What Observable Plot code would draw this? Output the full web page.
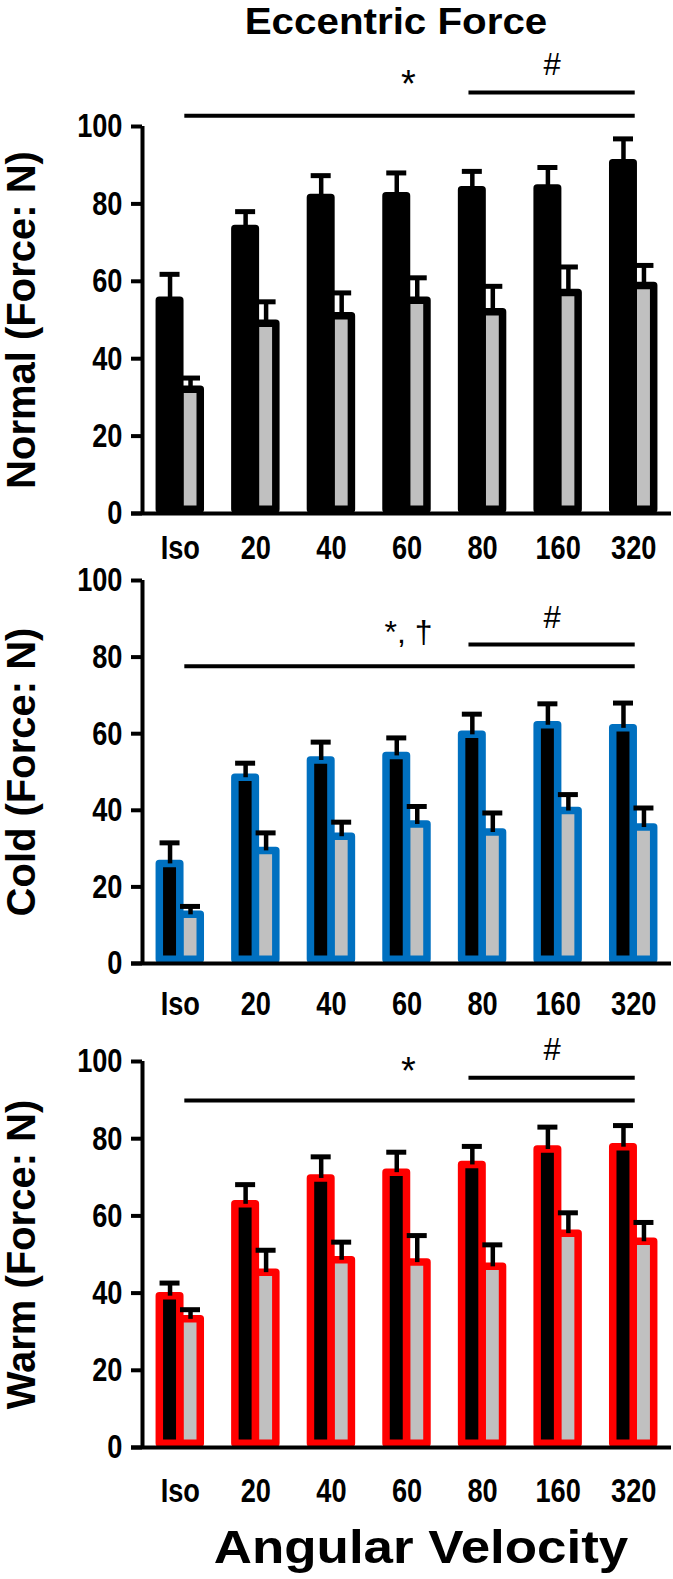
<!DOCTYPE html>
<html><head><meta charset="utf-8">
<script src="https://cdn.jsdelivr.net/npm/d3@7"></script>
<script src="https://cdn.jsdelivr.net/npm/@observablehq/plot@0.6"></script>
<style>
body{margin:0;background:#fff;font-family:"Liberation Sans",Arial,sans-serif;}
#root{position:relative;width:673px;height:1579px;overflow:hidden;}
.panel{position:absolute;left:0;}
.panel svg{overflow:visible;}
.big{position:absolute;font-weight:bold;line-height:1.15;white-space:nowrap;color:#000;}
</style></head><body>
<div id="root">
  <div id="title" class="big" style="left:396px;top:1px;font-size:36px;transform:translateX(-50%) scaleX(1.12);">Eccentric Force</div>
  <div id="xtitle" class="big" style="left:421px;top:1521px;font-size:46px;transform:translateX(-50%) scaleX(1.15);">Angular Velocity</div>
</div>
<script>
// ---------- data ----------
const categories = ["Iso", "20", "40", "60", "80", "160", "320"];
const yTicks = [0, 20, 40, 60, 80, 100];

const normalBlack    = [55, 73.5, 81.5, 82, 83.5, 84, 90.5];
const normalBlackErr = [6.8, 4.5, 5.8, 6.0, 4.9, 5.4, 6.3];
const normalGray     = [32, 49, 51, 55, 52, 57, 58.8];
const normalGrayErr  = [3.0, 5.7, 6.0, 5.9, 6.7, 6.7, 5.3];

const coldBlack    = [26, 48.5, 53, 54.2, 59.7, 62.2, 61.4];
const coldBlackErr = [5.5, 3.8, 4.8, 4.7, 5.4, 5.6, 6.6];
const coldGray     = [12.7, 29.4, 33.1, 36.3, 34.2, 39.8, 35.5];
const coldGrayErr  = [2.2, 4.7, 3.8, 4.7, 5.1, 4.3, 5.1];

const warmBlack    = [39.2, 63, 69.7, 71.2, 73.2, 77.2, 77.8];
const warmBlackErr = [3.4, 5.1, 5.6, 5.3, 4.8, 5.8, 5.6];
const warmGray     = [33.2, 45.3, 48.5, 47.9, 46.8, 55.4, 53.3];
const warmGrayErr  = [2.5, 5.8, 4.7, 7.0, 5.7, 5.4, 5.0];

// significance bars: [from category index, to category index]
const sigFrom = [0.06, 3.82];
const sigTo   = [6.02, 6.02];
const normalSigY = [102.8, 108.8];
const coldSigY   = [77.6, 83.3];
const warmSigY   = [89.9, 95.8];
const sigLabelX  = [3.02, 4.92];
const normalSigText = ["*", "#"];
const coldSigText   = ["*, \u2020", "#"];
const warmSigText   = ["*", "#"];
const normalSigTextY = [107.6, 113.4];
const coldSigTextY   = [83.6, 87.7];
const warmSigTextY   = [94.2, 100.5];

// ---------- layout ----------
const STEP = 529 / 7;          // px per category
const BW = 0.271;              // bar width in category units
const CAP = 10 / STEP;         // half cap width
const TICK = 11 / STEP;
const GRAYFILL = "#c0c0c0";

function rows(v, e) { return v.map((val, i) => ({i, v: val, e: e[i]})); }

function squeeze(svg, selector, kx, ky) {
  svg.querySelectorAll(selector).forEach(t => {
    const tr = t.getAttribute("transform") || "";
    t.setAttribute("transform", tr + ` scale(${kx},${ky})`);
  });
}

function panel(cfg) {
  const black = rows(cfg.black, cfg.blackErr);
  const gray = rows(cfg.gray, cfg.grayErr);
  const sig = cfg.sigY.map((y, k) => ({y, x1: sigFrom[k], x2: sigTo[k]}));
  const sigT = cfg.sigText.map((t, k) => ({t, x: sigLabelX[k], y: cfg.sigTextY[k]}));
  const sigSize = t => t === "*" ? 38 : t === "#" ? 31 : 32;
  const svg = Plot.plot({
    width: 673,
    height: cfg.height,
    marginLeft: 142,
    marginRight: 2,
    marginTop: cfg.marginTop,
    marginBottom: cfg.marginBottom,
    style: {fontFamily: "'Liberation Sans', Arial, sans-serif", fontWeight: "bold", color: "#000", background: "transparent", overflow: "visible"},
    x: {type: "linear", domain: [-0.5, 6.5]},
    y: {domain: [0, 100]},
    marks: [
      Plot.rect(gray, {x1: d => d.i, x2: d => d.i + BW, y1: 0, y2: d => d.v, fill: GRAYFILL, stroke: cfg.edge, strokeWidth: 7.5, strokeLinejoin: "round", insetBottom: 3.75}),
      Plot.rect(black, {x1: d => d.i - BW, x2: d => d.i, y1: 0, y2: d => d.v, fill: "#000", stroke: cfg.edge, strokeWidth: 7.5, strokeLinejoin: "round", insetBottom: 3.75}),
      Plot.ruleX(gray, {x: d => d.i + BW / 2, y1: d => d.v, y2: d => d.v + d.e, stroke: "#000", strokeWidth: 4.5}),
      Plot.ruleY(gray, {y: d => d.v + d.e, x1: d => d.i + BW / 2 - CAP, x2: d => d.i + BW / 2 + CAP, stroke: "#000", strokeWidth: 5}),
      Plot.ruleX(black, {x: d => d.i - BW / 2, y1: d => d.v, y2: d => d.v + d.e, stroke: "#000", strokeWidth: 4.5}),
      Plot.ruleY(black, {y: d => d.v + d.e, x1: d => d.i - BW / 2 - CAP, x2: d => d.i - BW / 2 + CAP, stroke: "#000", strokeWidth: 5}),
      Plot.ruleX([-0.5], {y1: 0, y2: 100, stroke: "#000", strokeWidth: 4}),
      Plot.ruleY([0], {x1: -0.5 - TICK, x2: 6.5, stroke: "#000", strokeWidth: 4}),
      Plot.axisY({ticks: yTicks, tickSize: 11, tickPadding: 9, fontSize: 34, strokeWidth: 4, label: null}),
      Plot.axisX({ticks: d3.range(categories.length), tickFormat: i => categories[i], tickSize: 0, tickPadding: cfg.labelPad, fontSize: 34, label: null}),
      Plot.text([cfg.label], {frameAnchor: "left", textAnchor: "middle", rotate: -90, dx: -120, fontSize: 40, fontWeight: "bold", ariaLabel: "y-label"}),
      Plot.ruleY(sig, {y: "y", x1: "x1", x2: "x2", stroke: "#000", strokeWidth: 4}),
      Plot.text(sigT, {x: "x", y: "y", text: "t", fontSize: d => sigSize(d.t), fontWeight: "normal", lineAnchor: "bottom"})
    ]
  });
  squeeze(svg, 'g[aria-label="y-axis tick label"] text', 0.8, 1);
  squeeze(svg, 'g[aria-label="x-axis tick label"] text', 0.8, 1);
  squeeze(svg, 'g[aria-label="y-label"] text', cfg.labelStretch, 1);
  return svg;
}

const root = document.getElementById("root");
function place(svg, top) {
  const d = document.createElement("div");
  d.className = "panel";
  d.style.top = top + "px";
  d.appendChild(svg);
  root.appendChild(d);
}

place(panel({black: normalBlack, blackErr: normalBlackErr, gray: normalGray, grayErr: normalGrayErr,
  edge: "#000", label: "Normal (Force: N)", labelStretch: 0.98, sigY: normalSigY, sigText: normalSigText, sigTextY: normalSigTextY,
  height: 535, marginTop: 86, marginBottom: 62, labelPad: 21}), 40);

place(panel({black: coldBlack, blackErr: coldBlackErr, gray: coldGray, grayErr: coldGrayErr,
  edge: "#0070c0", label: "Cold (Force: N)", labelStretch: 1.15, sigY: coldSigY, sigText: coldSigText, sigTextY: coldSigTextY,
  height: 465, marginTop: 15, marginBottom: 67, labelPad: 27}), 565);

place(panel({black: warmBlack, blackErr: warmBlackErr, gray: warmGray, grayErr: warmGrayErr,
  edge: "#ff0000", label: "Warm (Force: N)", labelStretch: 1.14, sigY: warmSigY, sigText: warmSigText, sigTextY: warmSigTextY,
  height: 490, marginTop: 31, marginBottom: 73, labelPad: 30}), 1030);
</script>
</body></html>
